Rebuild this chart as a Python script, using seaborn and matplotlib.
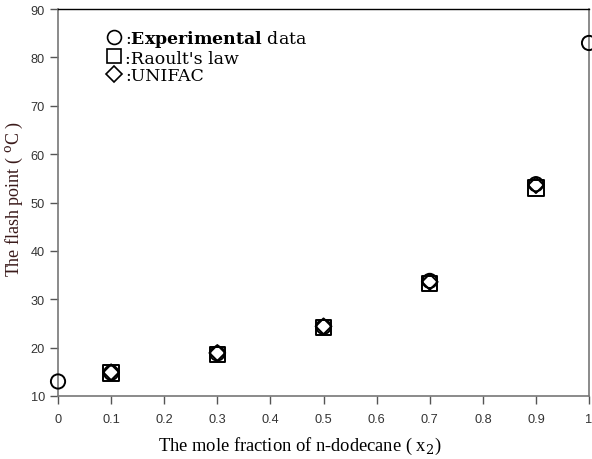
import matplotlib
matplotlib.use("Agg")
import matplotlib.pyplot as plt
import seaborn as sns
import pandas as pd
from matplotlib.lines import Line2D

sns.set_theme(style="white")
plt.rcParams["mathtext.fontset"] = "dejavuserif"

x_exp = [0.0, 0.1, 0.3, 0.5, 0.7, 0.9, 1.0]
y_exp = [13.0, 14.8, 18.8, 24.3, 33.8, 53.8, 83.0]
x_calc = [0.1, 0.3, 0.5, 0.7, 0.9]
y_raoult = [14.7, 18.6, 24.2, 33.3, 53.0]
y_unifac = [14.9, 18.9, 24.4, 33.6, 53.6]
x_ticks = [0, 0.1, 0.2, 0.3, 0.4, 0.5, 0.6, 0.7, 0.8, 0.9, 1]
x_ticklabels = ["0", "0.1", "0.2", "0.3", "0.4", "0.5", "0.6", "0.7", "0.8", "0.9", "1"]
y_ticks = [10, 20, 30, 40, 50, 60, 70, 80, 90]

fig = plt.figure(figsize=(5.92, 4.60), dpi=100)
ax = fig.add_axes([0.098, 0.137, 0.897, 0.841])

df_exp = pd.DataFrame({"x": x_exp, "y": y_exp})
df_r = pd.DataFrame({"x": x_calc, "y": y_raoult})
df_u = pd.DataFrame({"x": x_calc, "y": y_unifac})

common = dict(facecolor="none", edgecolor="black", linewidth=1.4, zorder=3, clip_on=False)
sns.scatterplot(data=df_r, x="x", y="y", marker="s", s=125, ax=ax, **common)
sns.scatterplot(data=df_u, x="x", y="y", marker="D", s=65, ax=ax, **common)
sns.scatterplot(data=df_exp, x="x", y="y", marker="o", s=105, ax=ax, **common)

ax.set_xlim(0, 1)
ax.set_ylim(10, 90)
ax.set_xticks(x_ticks)
ax.set_xticklabels(x_ticklabels)
ax.set_yticks(y_ticks)
ax.tick_params(axis="both", direction="out", length=5.5, width=1, color="#555555",
               labelsize=9.2, labelcolor="#333333", bottom=True, left=True)
ax.tick_params(axis="x", pad=7)
ax.tick_params(axis="y", pad=4)
for lab in ax.get_xticklabels() + ax.get_yticklabels():
    lab.set_family("Liberation Sans")

for side in ["left", "bottom", "right"]:
    ax.spines[side].set_color("#777777")
    ax.spines[side].set_linewidth(1.2)
ax.spines["top"].set_color("black")
ax.spines["top"].set_linewidth(1.0)

ax.set_xlabel("The mole fraction of n-dodecane ( x$_2$)", family="Liberation Serif",
              fontsize=13.3, color="black")
ax.xaxis.set_label_coords(0.456, -0.100)
ax.set_ylabel("The flash point ( $^{\\rm o}$C )", family="Liberation Serif",
              fontsize=13, color="#3a1a1a")
ax.yaxis.set_label_coords(-0.062, 0.512)

handles = [
    Line2D([], [], marker="o", linestyle="none", markerfacecolor="none",
           markeredgecolor="black", markersize=10, markeredgewidth=1.2),
    Line2D([], [], marker="s", linestyle="none", markerfacecolor="none",
           markeredgecolor="black", markersize=10, markeredgewidth=1.2),
    Line2D([], [], marker="D", linestyle="none", markerfacecolor="none",
           markeredgecolor="black", markersize=8, markeredgewidth=1.2),
]
labels = [":$\\mathbf{Experimental}$ data", ":Raoult's law", ":UNIFAC"]
leg = ax.legend(handles, labels, loc="upper left", bbox_to_anchor=(0.08, 0.97),
                frameon=False, handlelength=0.8, handletextpad=0.2, labelspacing=0.05,
                prop={"family": "DejaVu Serif", "size": 12.5}, borderaxespad=0)
for t in leg.get_texts():
    t.set_color("black")

fig.savefig("out.png", dpi=100)
